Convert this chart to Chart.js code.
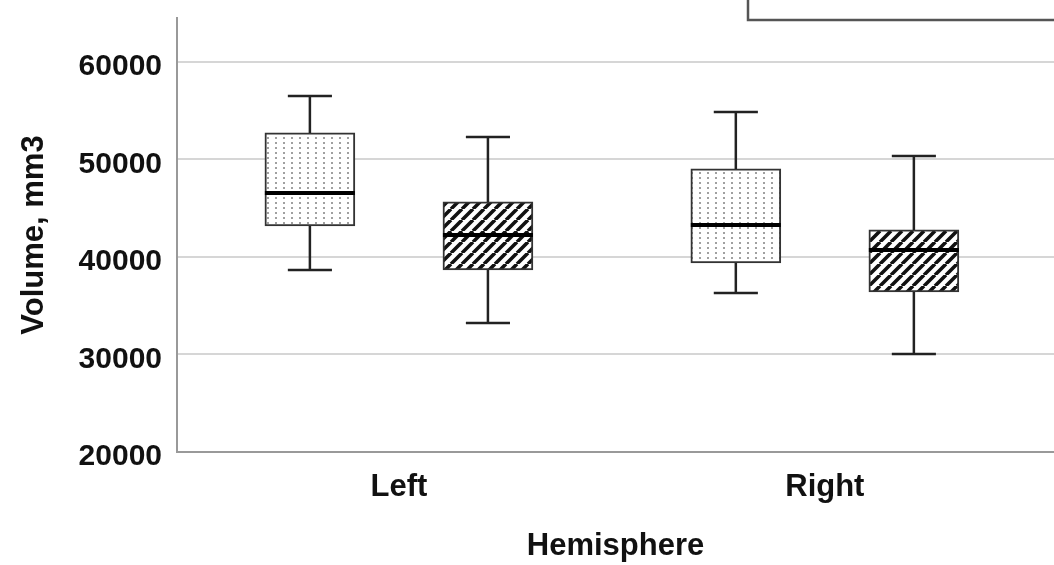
<!DOCTYPE html>
<html>
<head>
<meta charset="utf-8">
<script src="https://cdn.jsdelivr.net/npm/chart.js@4.4.1/dist/chart.umd.min.js"></script>
<style>
  html, body { margin: 0; padding: 0; background: #fff; overflow: hidden; }
  canvas { display: block; }
</style>
</head>
<body>
<canvas id="volumen" width="1054" height="565"></canvas>
<script>
const hemisferios = ["Left", "Right"];
const marcasY = [20000, 30000, 40000, 50000, 60000];

// grupo punteado
const puntMin = [38670, 36310];
const puntQ1 = [43180, 39380];
const puntMed = [46560, 43280];
const puntQ3 = [52720, 49030];
const puntMax = [56510, 54870];

// grupo rayado
const rayMin = [33230, 30050];
const rayQ1 = [38670, 36410];
const rayMed = [42260, 40720];
const rayQ3 = [45640, 42770];
const rayMax = [52310, 50360];

const separacion = 0.209;
const fuente = (size) => ({ family: "'Liberation Sans', Arial, sans-serif", size, weight: "bold" });

const crearPatron = (tipo) => {
  const c = document.createElement("canvas");
  const p = c.getContext("2d");
  if (tipo === "puntos") {
    c.width = 8;
    c.height = 5;
    p.fillStyle = "#fff";
    p.fillRect(0, 0, 8, 5);
    p.fillStyle = "#a0a0a0";
    p.fillRect(3, 2, 2, 2);
  } else {
    const t = 11;
    c.width = t;
    c.height = t;
    p.fillStyle = "#fff";
    p.fillRect(0, 0, t, t);
    p.strokeStyle = "#111";
    p.lineWidth = 3.6;
    p.beginPath();
    [-t, 0, t].forEach((off) => {
      p.moveTo(off, t);
      p.lineTo(off + t, 0);
    });
    p.stroke();
  }
  return p.createPattern(c, "repeat");
};

const armarDatos = (q1, q3, desplaz) =>
  q1.map((v, j) => ({ x: j + 1 + desplaz, y: [v, q3[j]] }));

// bigotes y medianas
const bigotes = {
  id: "bigotes",
  afterDatasetsDraw: (chart) => {
    const ctx = chart.ctx;
    const ejeY = chart.scales.y;
    chart.data.datasets.forEach((ds, i) => {
      const meta = chart.getDatasetMeta(i);
      meta.data.forEach((barra, j) => {
        const x = barra.x;
        const media = barra.width / 2;
        const tapa = barra.width * 0.245;
        const yMin = ejeY.getPixelForValue(ds.minimos[j]);
        const yQ1 = ejeY.getPixelForValue(ds.q1[j]);
        const yQ3 = ejeY.getPixelForValue(ds.q3[j]);
        const yMax = ejeY.getPixelForValue(ds.maximos[j]);
        const yMed = ejeY.getPixelForValue(ds.medianas[j]);
        ctx.save();
        ctx.strokeStyle = "#222";
        ctx.lineWidth = 2.5;
        ctx.beginPath();
        ctx.moveTo(x, yQ3);
        ctx.lineTo(x, yMax);
        ctx.moveTo(x - tapa, yMax);
        ctx.lineTo(x + tapa, yMax);
        ctx.moveTo(x, yQ1);
        ctx.lineTo(x, yMin);
        ctx.moveTo(x - tapa, yMin);
        ctx.lineTo(x + tapa, yMin);
        ctx.stroke();
        ctx.strokeStyle = "#000";
        ctx.lineWidth = 4;
        ctx.beginPath();
        ctx.moveTo(x - media, yMed);
        ctx.lineTo(x + media, yMed);
        ctx.stroke();
        ctx.restore();
      });
    });
  },
};

// marco de la leyenda (cortado arriba)
const marcoLeyenda = {
  id: "marcoLeyenda",
  afterDraw: (chart) => {
    const ctx = chart.ctx;
    ctx.save();
    ctx.strokeStyle = "#555";
    ctx.lineWidth = 2.5;
    ctx.strokeRect(748, -20, 400, 40);
    ctx.restore();
  },
};

const grafico = new Chart(document.getElementById("volumen"), {
  type: "bar",
  data: {
    datasets: [
      {
        label: "punteado",
        data: armarDatos(puntQ1, puntQ3, -separacion),
        backgroundColor: crearPatron("puntos"),
        borderColor: "#333",
        borderWidth: 2,
        borderSkipped: false,
        barThickness: 90,
        grouped: false,
        minimos: puntMin,
        q1: puntQ1,
        medianas: puntMed,
        q3: puntQ3,
        maximos: puntMax,
      },
      {
        label: "rayado",
        data: armarDatos(rayQ1, rayQ3, separacion),
        backgroundColor: crearPatron("rayas"),
        borderColor: "#333",
        borderWidth: 2,
        borderSkipped: false,
        barThickness: 90,
        grouped: false,
        minimos: rayMin,
        q1: rayQ1,
        medianas: rayMed,
        q3: rayQ3,
        maximos: rayMax,
      },
    ],
  },
  options: {
    responsive: false,
    animation: false,
    devicePixelRatio: 1,
    layout: { padding: { top: 18, right: 0, left: 0, bottom: 0 } },
    plugins: {
      legend: { display: false },
      tooltip: { enabled: false },
    },
    scales: {
      x: {
        type: "linear",
        min: 0.479,
        max: 2.538,
        offset: false,
        grid: { display: false },
        border: { color: "#999", width: 2 },
        afterBuildTicks: (eje) => {
          eje.ticks = hemisferios.map((h, i) => ({ value: i + 1 }));
        },
        afterFit: (eje) => {
          eje.height = 113;
          eje.paddingLeft = 0;
          eje.paddingRight = 0;
        },
        ticks: {
          callback: (value) => hemisferios[value - 1],
          font: fuente(31),
          color: "#111",
          padding: 9,
          maxRotation: 0,
          autoSkip: false,
        },
        title: {
          display: true,
          text: "Hemisphere",
          font: fuente(31),
          color: "#111",
          padding: 0,
        },
      },
      y: {
        min: 20000,
        max: 64500,
        afterBuildTicks: (eje) => {
          eje.ticks = marcasY.map((v) => ({ value: v }));
        },
        afterFit: (eje) => {
          eje.width = 177;
          eje.paddingTop = 0;
          eje.paddingBottom = 0;
        },
        grid: {
          color: (c) => (c.tick && c.tick.value === 20000 ? "rgba(0,0,0,0)" : "#d6d6d6"),
          lineWidth: 2,
          drawTicks: false,
        },
        border: { color: "#999", width: 2 },
        ticks: {
          callback: (value) => String(value),
          font: fuente(30),
          color: "#111",
          padding: 15,
          labelOffset: 5,
        },
        title: {
          display: true,
          text: "Volume, mm3",
          font: fuente(31),
          color: "#111",
          padding: { top: 16, bottom: 0 },
        },
      },
    },
  },
  plugins: [bigotes, marcoLeyenda],
});
</script>
</body>
</html>
